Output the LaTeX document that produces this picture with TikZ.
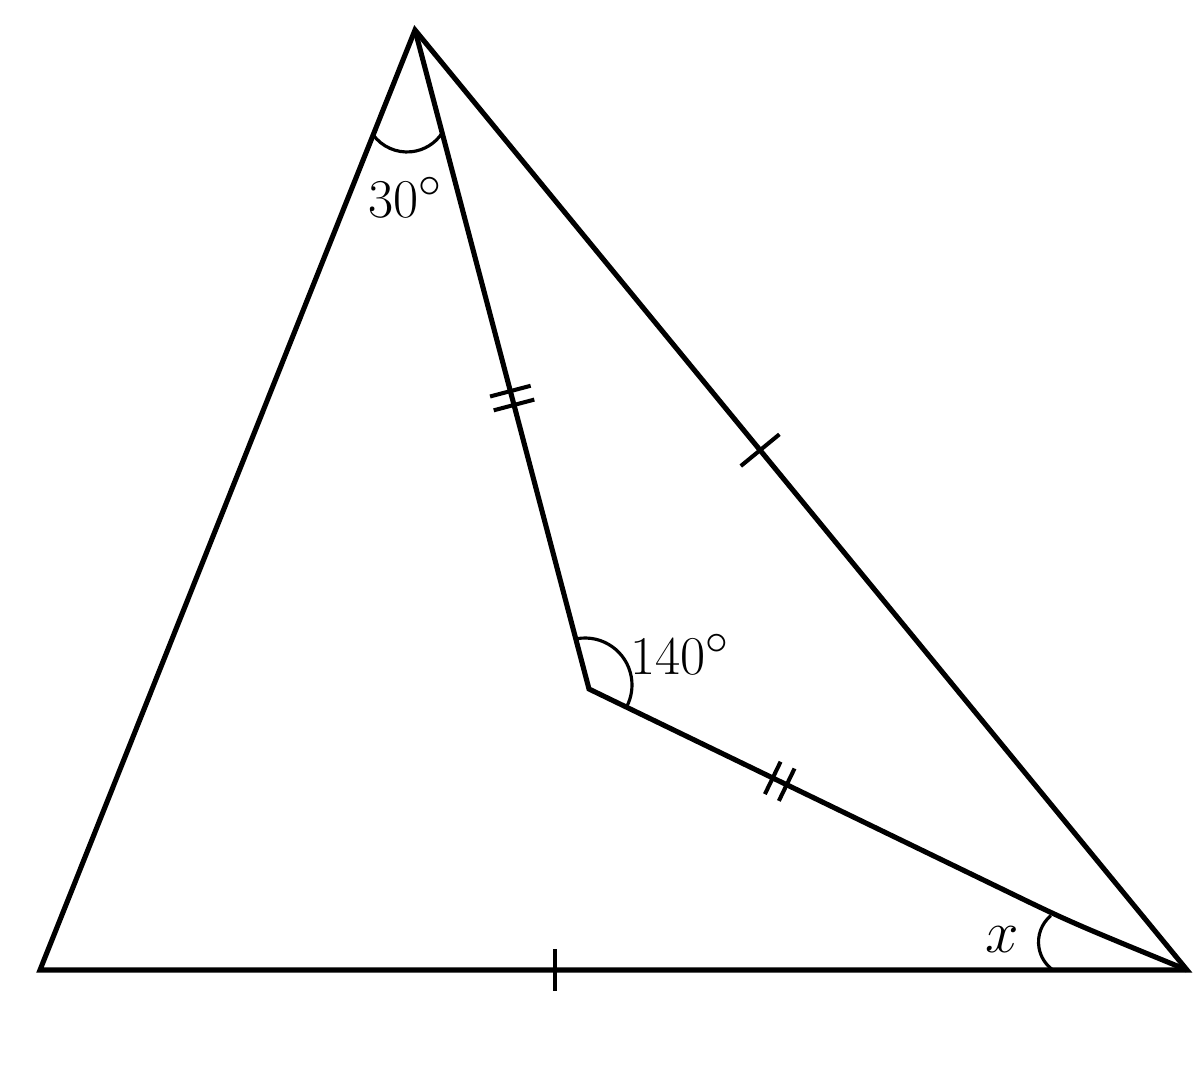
\documentclass[tikz,border=0pt]{standalone}
\usetikzlibrary{calc}
\begin{document}
\begin{tikzpicture}[x=0.02cm,y=0.02cm,
  edge/.style={line width=2.9pt},
  tickmark/.style={line width=2.3pt},
  anglemark/.style={line width=1.8pt},
  lbl/.style={inner sep=0pt, font=\fontsize{24.88}{30}\selectfont, scale=1.25}]
\path[use as bounding box] (0,0) rectangle (1200,1069);
% vertices
\coordinate (A) at (415,1039);
\coordinate (B) at (40,99);
\coordinate (C) at (1187,99);
\coordinate (D) at (589,380);
\coordinate (K1) at (1000,181);
\coordinate (K2) at (1070,147);
% sides
\draw[edge] (A) -- (B) -- (C) -- cycle;
\draw[edge] (A) -- (D) -- (K1) .. controls (K2) .. (C);
% tick marks
\coordinate (tBC) at ($(B)!0.449!(C)$);
\coordinate (tAC) at ($(A)!0.447!(C)$);
\coordinate (tAD1) at ($(A)!0.548!(D)$);
\coordinate (tAD2) at ($(A)!0.569!(D)$);
\coordinate (tDC1) at ($(D)!0.447!(K1)$);
\coordinate (tDC2) at ($(D)!0.481!(K1)$);
\draw[tickmark] ($(tBC)!0.42cm!90:(C)$) -- ($(tBC)!0.42cm!-90:(C)$);
\draw[tickmark] ($(tAC)!0.5cm!90:(C)$) -- ($(tAC)!0.5cm!-90:(C)$);
\draw[tickmark] ($(tAD1)!0.42cm!90:(D)$) -- ($(tAD1)!0.42cm!-90:(D)$);
\draw[tickmark] ($(tAD2)!0.42cm!90:(D)$) -- ($(tAD2)!0.42cm!-90:(D)$);
\draw[tickmark] ($(tDC1)!0.36cm!90:(K1)$) -- ($(tDC1)!0.36cm!-90:(K1)$);
\draw[tickmark] ($(tDC2)!0.36cm!90:(K1)$) -- ($(tDC2)!0.36cm!-90:(K1)$);
% angle arcs
\coordinate (cA) at (407,959);
\coordinate (cD) at (585,384);
\coordinate (cC) at (1073,127);
\draw[anglemark] ([shift={(216:0.84cm)}]cA) arc[start angle=216,end angle=327,radius=0.84cm];
\draw[anglemark] ([shift={(100:0.94cm)}]cD) arc[start angle=100,end angle=-27,radius=0.94cm];
\draw[anglemark] ([shift={(130:0.69cm)}]cC) arc[start angle=130,end angle=234.5,radius=0.69cm];
% labels
\node[lbl] (l30) at (405,872) {$30^\circ$};
\node[lbl] (l140) at (680,415) {$140^\circ$};
\node[lbl, scale=1.1] (lx) at (1002,129) {$x$};
\end{tikzpicture}
\end{document}
